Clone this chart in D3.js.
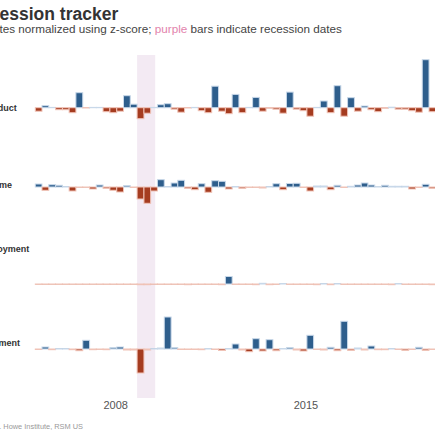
<!DOCTYPE html>
<html>
<head>
<meta charset="utf-8">
<script src="https://cdn.jsdelivr.net/npm/d3@7"></script>
<style>
  html, body { margin: 0; padding: 0; background: #fff; overflow: hidden; }
  svg { display: block; font-family: "Liberation Sans", Arial, sans-serif; }
</style>
</head>
<body>
<svg id="chart" width="435" height="435"></svg>
<script>
// ---------- data ----------
const quarters = [
  "2005Q1","2005Q2","2005Q3","2005Q4","2006Q1","2006Q2","2006Q3","2006Q4",
  "2007Q1","2007Q2","2007Q3","2007Q4","2008Q1","2008Q2","2008Q3","2008Q4",
  "2009Q1","2009Q2","2009Q3","2009Q4","2010Q1","2010Q2","2010Q3","2010Q4",
  "2011Q1","2011Q2","2011Q3","2011Q4","2012Q1","2012Q2","2012Q3","2012Q4",
  "2013Q1","2013Q2","2013Q3","2013Q4","2014Q1","2014Q2","2014Q3","2014Q4",
  "2015Q1","2015Q2","2015Q3","2015Q4","2016Q1","2016Q2","2016Q3","2016Q4",
  "2017Q1","2017Q2","2017Q3","2017Q4","2018Q1","2018Q2","2018Q3","2018Q4",
  "2019Q1","2019Q2","2019Q3"
];
const seriesNames = ["Gross domestic product", "Real disposable income", "Unemployment", "Employment"];
const gdp = [-0.35,0.2,0.03,-0.2,-0.2,-0.5,1.5,-0.03,0.03,0.03,-0.4,-0.5,-0.35,1.2,0.35,-1.1,-0.55,0.03,0.3,0.4,-0.15,-0.45,-0.03,0.03,-0.3,-0.5,2.15,-0.35,-0.6,1.33,-0.5,0.03,1.03,-0.35,-0.05,-0.15,-0.55,1.56,-0.15,-0.3,-0.85,0.03,0.67,-0.5,2.2,-0.85,1.0,-0.35,0.17,-0.2,-0.4,-0.05,0.05,-0.15,-0.15,-0.3,-0.45,4.8,-0.4];
const income = [0.3,-0.33,0.23,0.17,0.03,-0.4,-0.03,-0.03,-0.2,0.2,-0.13,-0.33,-0.5,0.13,-0.05,-1.2,-1.63,-0.4,0.73,0.03,0.4,0.67,-0.13,-0.27,0.33,-0.53,0.63,0.57,-0.2,0.05,-0.13,-0.05,-0.03,-0.1,0.03,0.33,-0.27,0.35,0.37,-0.05,-0.4,0.1,0.1,-0.27,0.17,-0.05,0.07,0.2,0.4,0.2,0.02,0.17,0.07,0.07,0.07,-0.2,-0.05,0.27,-0.13];
const unemployment = [-0.03,-0.03,-0.03,-0.03,-0.03,-0.03,-0.03,-0.03,-0.03,-0.03,-0.03,-0.03,-0.03,-0.03,-0.03,-0.07,-0.07,-0.03,-0.03,-0.03,-0.03,-0.03,-0.07,-0.03,-0.03,-0.03,-0.03,-0.07,0.75,-0.03,-0.03,-0.03,-0.07,0.07,-0.07,-0.03,0.05,-0.03,-0.03,-0.03,-0.03,-0.07,0.03,-0.07,0.03,-0.03,-0.03,-0.03,-0.03,-0.03,-0.03,-0.03,-0.07,0.05,-0.03,-0.03,-0.03,-0.03,-0.07];
const employment = [-0.05,0.2,-0.07,0.03,0.03,-0.07,-0.17,0.87,-0.07,-0.03,-0.07,0.13,0.2,-0.1,-0.1,-2.4,-0.1,0.03,0.1,3.2,0.13,-0.05,-0.05,-0.05,-0.07,0.05,-0.05,-0.15,0.05,0.5,-0.1,-0.27,1.03,-0.2,0.93,-0.17,0.05,0.13,-0.1,-0.2,1.37,-0.05,-0.1,0.17,-0.17,2.77,-0.13,0.1,-0.1,0.3,-0.07,-0.07,0.03,-0.05,-0.13,-0.05,0.17,-0.13,-0.05];
const recession = ["2008-10-01", "2009-06-01"];
const tickLabels = ["2008", "2015"];

// ---------- layout ----------
const rowZero = [107.7, 187, 284, 349];
const labelPos = [[16.7, 110.5], [12, 187.5], [29.3, 252], [20, 346]];
const colors = { posFill: "#2e5e8c", posStroke: "#c8d8e9", negFill: "#a53c20", negStroke: "#f0c3b7", band: "#f3eaf3" };

const svg = d3.select("#chart");
const parseQ = s => new Date(+s.slice(0, 4), (+s[5] - 1) * 3, 1);
const dates = quarters.map(parseQ);
const x = d3.scaleTime().domain([new Date(2005, 0, 1), new Date(2020, 0, 1)]).range([35.3, 35.3 + 60 * 6.79]);
const y = d3.scaleLinear().domain([-5, 5]).range([50, -50]);

// recession band
svg.append("rect")
  .attr("x", x(new Date(recession[0])))
  .attr("width", x(new Date(recession[1])) - x(new Date(recession[0])))
  .attr("y", 55).attr("height", 343)
  .attr("fill", colors.band);

// place a text so that the character at index idx starts at targetX
function placeFrom(textSel, idx, targetX) {
  const node = textSel.node();
  const pos = node.getStartPositionOfChar(idx).x;
  textSel.attr("x", +textSel.attr("x") + (targetX - pos));
}

// title & subtitle
const title = svg.append("text").attr("x", 0).attr("y", 20)
  .attr("font-size", 17.5).attr("font-weight", "bold").attr("fill", "#333")
  .text("Recession tracker");
placeFrom(title, 3, -0.5);

const sub = svg.append("text").attr("x", 0).attr("y", 33).attr("font-size", 11.7).attr("fill", "#444");
sub.append("tspan").text("Quarterly growth rates normalized using z-score; ");
sub.append("tspan").attr("fill", "#e384ad").text("purple");
sub.append("tspan").text(" bars indicate recession dates");
placeFrom(sub, "Quarterly growth ra".length, -0.5);

// rows
const allSeries = [gdp, income, unemployment, employment];
allSeries.forEach((vals, r) => {
  const g = svg.append("g").attr("transform", `translate(0,${rowZero[r]})`);
  g.selectAll("rect").data(vals.map((v, i) => ({ v, d: dates[i] })))
    .join("rect")
    .attr("x", d => x(d.d))
    .attr("width", d => x(d3.timeMonth.offset(d.d, 3)) - x(d.d))
    .attr("y", d => Math.min(y(d.v), y(0)))
    .attr("height", d => Math.abs(y(d.v) - y(0)))
    .attr("fill", d => d.v >= 0 ? colors.posFill : colors.negFill)
    .attr("stroke", d => d.v >= 0 ? colors.posStroke : colors.negStroke)
    .attr("stroke-width", 1);
  svg.append("text")
    .attr("x", labelPos[r][0]).attr("y", labelPos[r][1])
    .attr("text-anchor", "end")
    .attr("font-size", 9).attr("font-weight", "bold").attr("fill", "#333")
    .text(seriesNames[r]);
});

// x axis
const axis = d3.axisBottom(x)
  .tickValues(tickLabels.map(t => new Date(+t, 0, 1)))
  .tickFormat(d3.timeFormat("%Y"))
  .tickSize(0).tickPadding(0);
const ax = svg.append("g").attr("transform", "translate(-1.5,401)").call(axis);
ax.select(".domain").remove();
ax.selectAll("text").attr("font-size", 11).attr("fill", "#555")
  .attr("font-family", "'Liberation Sans', Arial, sans-serif");

// source
const src = svg.append("text").attr("x", 0).attr("y", 429).attr("font-size", 7.4).attr("fill", "#999")
  .text("Source: C.D. Howe Institute, RSM US");
placeFrom(src, "Source: C.D. ".length, 3.3);
</script>
</body>
</html>
